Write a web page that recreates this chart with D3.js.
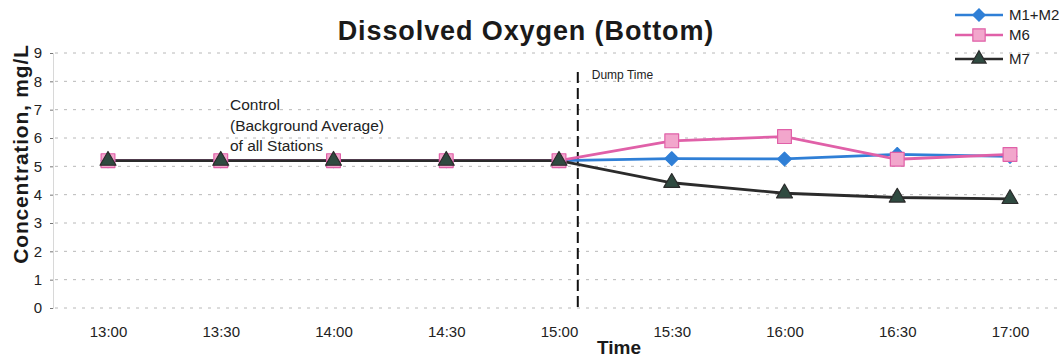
<!DOCTYPE html>
<html>
<head>
<meta charset="utf-8">
<script src="https://cdn.jsdelivr.net/npm/d3@7"></script>
<style>
  html, body { margin: 0; padding: 0; background: #fff; }
  svg { display: block; font-family: "Liberation Sans", Arial, sans-serif; }
</style>
</head>
<body>
<svg id="chart" width="1062" height="358"></svg>
<script>
// Sampling times (HH:MM) and dissolved oxygen readings, mg/L
const times = ["13:00", "13:30", "14:00", "14:30", "15:00", "15:30", "16:00", "16:30", "17:00"];
const m1m2 = [5.2, 5.2, 5.2, 5.2, 5.2, 5.27, 5.26, 5.42, 5.35];
const m6   = [5.2, 5.2, 5.2, 5.2, 5.2, 5.9, 6.05, 5.25, 5.42];
const m7   = [5.2, 5.2, 5.2, 5.2, 5.2, 4.42, 4.05, 3.9, 3.85];
const yTicks = [0, 1, 2, 3, 4, 5, 6, 7, 8, 9];
const dumpTime = "15:05";

const toMin = t => { const [h, m] = t.split(":").map(Number); return h * 60 + m; };

const series = [
  { name: "M1+M2", values: m1m2, stroke: "#2f7fd6", fill: "#2f7fd6", shape: d3.symbolSquare,   rot: 45, size: 95 },
  { name: "M6",    values: m6,   stroke: "#e060a8", fill: "#f2a6cc", shape: d3.symbolSquare,   rot: 0,  size: 190 },
  { name: "M7",    values: m7,   stroke: "#2b2b2b", fill: "#2f4a40", shape: d3.symbolTriangle, rot: 0,  size: 110 }
];

const svg = d3.select("#chart");

const x = d3.scaleLinear().domain([toMin(times[0]), toMin(times[times.length - 1])]).range([108, 1010]);
const y = d3.scaleLinear().domain([0, 9]).range([308, 53]);

// Horizontal gridlines
svg.append("g")
  .selectAll("line")
  .data(yTicks)
  .join("line")
  .attr("x1", 55).attr("x2", 1062)
  .attr("y1", d => y(d)).attr("y2", d => y(d))
  .attr("stroke", "#b8b8b8")
  .attr("stroke-width", 1)
  .attr("stroke-dasharray", "3,6");

// Y axis
const yAxis = svg.append("g")
  .attr("transform", "translate(53,0)")
  .call(d3.axisLeft(y).tickValues(yTicks).tickSize(3).tickPadding(8));
yAxis.select(".domain").attr("stroke", "#d8d8d8");
yAxis.selectAll(".tick line").attr("stroke", "#777");
yAxis.selectAll("text").attr("font-size", 15).attr("fill", "#222")
  .attr("font-family", "Liberation Sans, Arial, sans-serif");

// X axis labels
const xAxis = svg.append("g")
  .attr("transform", "translate(0,320)")
  .call(d3.axisBottom(x).tickValues(times.map(toMin)).tickSize(0).tickPadding(6)
    .tickFormat((d, i) => times[i]));
xAxis.select(".domain").remove();
xAxis.selectAll("text").attr("font-size", 15).attr("fill", "#222")
  .attr("font-family", "Liberation Sans, Arial, sans-serif");

// Dump time marker
const xd = x(toMin(dumpTime));
svg.append("line")
  .attr("x1", xd).attr("x2", xd)
  .attr("y1", 72).attr("y2", 312)
  .attr("stroke", "#111")
  .attr("stroke-width", 2)
  .attr("stroke-dasharray", "11,5");
svg.append("text")
  .attr("x", xd + 14).attr("y", 79)
  .attr("font-size", 12).attr("fill", "#222")
  .text("Dump Time");

// Series lines and markers
const line = d3.line()
  .x((d, i) => x(toMin(times[i])))
  .y(d => y(d));

series.forEach(s => {
  svg.append("path")
    .datum(s.values)
    .attr("fill", "none")
    .attr("stroke", s.stroke)
    .attr("stroke-width", 2.8)
    .attr("d", line);
});
series.forEach(s => {
  svg.append("g")
    .selectAll("path")
    .data(s.values)
    .join("path")
    .attr("transform", (d, i) => `translate(${x(toMin(times[i]))},${y(d)}) rotate(${s.rot})`)
    .attr("d", d3.symbol().type(s.shape).size(s.size))
    .attr("fill", s.fill)
    .attr("stroke", s.stroke)
    .attr("stroke-width", 1.2)
    .attr("stroke-linejoin", "round");
});

// Control annotation
const ctrl = svg.append("text")
  .attr("font-size", 15.5).attr("fill", "#222");
["Control", "(Background Average)", "of all Stations"].forEach((t, i) => {
  ctrl.append("tspan").attr("x", 230).attr("y", 110 + i * 20.5).text(t);
});

// Title
svg.append("text")
  .attr("x", 526).attr("y", 40)
  .attr("text-anchor", "middle")
  .attr("font-size", 27).attr("font-weight", "bold").attr("fill", "#1a1a1a")
  .attr("letter-spacing", 0.9)
  .text("Dissolved Oxygen (Bottom)");

// Axis titles
svg.append("text")
  .attr("transform", "translate(28,154) rotate(-90)")
  .attr("text-anchor", "middle")
  .attr("font-size", 21).attr("font-weight", "bold").attr("fill", "#1a1a1a")
  .attr("letter-spacing", 0.8)
  .text("Concentration, mg/L");
svg.append("text")
  .attr("x", 619).attr("y", 354)
  .attr("text-anchor", "middle")
  .attr("font-size", 19).attr("font-weight", "bold").attr("fill", "#1a1a1a")
  .text("Time");

// Legend
const legend = svg.append("g");
const rowY = [15, 35, 59];
series.forEach((s, i) => {
  const g = legend.append("g").attr("transform", `translate(955,${rowY[i]})`);
  g.append("line").attr("x1", 0).attr("x2", 48).attr("y1", 0).attr("y2", 0)
    .attr("stroke", s.stroke).attr("stroke-width", 2.5);
  g.append("path").attr("transform", `translate(24,0) rotate(${s.rot})`)
    .attr("d", d3.symbol().type(s.shape).size(s.size * 0.8))
    .attr("fill", s.fill).attr("stroke", s.stroke).attr("stroke-width", 1.2);
  g.append("text").attr("x", 54).attr("y", 5)
    .attr("font-size", 15).attr("fill", "#222").text(s.name);
});
</script>
</body>
</html>
